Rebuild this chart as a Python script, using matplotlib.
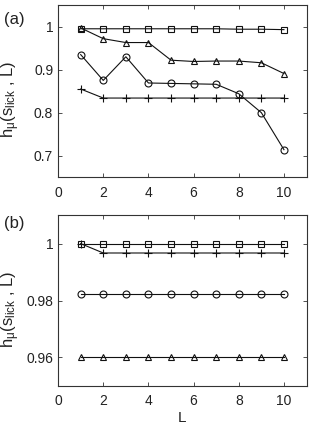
import matplotlib
matplotlib.use("Agg")
import matplotlib.pyplot as plt

plt.rcParams['font.family'] = ['Liberation Sans', 'DejaVu Sans']
plt.rcParams['mathtext.fontset'] = 'custom'
plt.rcParams['mathtext.rm'] = 'Liberation Sans'
plt.rcParams['mathtext.it'] = 'Liberation Sans'

L = [1, 2, 3, 4, 5, 6, 7, 8, 9, 10]

# panel (a)
a_square = [0.995, 0.995, 0.995, 0.995, 0.995, 0.995, 0.995, 0.994, 0.994, 0.993]
a_triangle = [0.997, 0.972, 0.963, 0.963, 0.922, 0.919, 0.920, 0.920, 0.916, 0.891]
a_circle = [0.935, 0.875, 0.930, 0.869, 0.868, 0.867, 0.866, 0.844, 0.800, 0.714]
a_plus = [0.855, 0.834, 0.834, 0.834, 0.834, 0.834, 0.834, 0.834, 0.834, 0.834]

# panel (b)
b_square = [1.0, 1.0, 1.0, 1.0, 1.0, 1.0, 1.0, 1.0, 1.0, 1.0]
b_plus = [1.0, 0.9967, 0.9967, 0.9967, 0.9967, 0.9967, 0.9967, 0.9967, 0.9967, 0.9967]
b_circle = [0.9822, 0.9822, 0.9822, 0.9822, 0.9822, 0.9822, 0.9822, 0.9822, 0.9822, 0.9822]
b_triangle = [0.96, 0.96, 0.96, 0.96, 0.96, 0.96, 0.96, 0.96, 0.96, 0.96]

txt = '#222222'
ylab = r'h$_{\mu}$(s$_{\mathregular{lick}}$ , L)'

fig = plt.figure(figsize=(3.09, 4.26), dpi=100)
ax1 = fig.add_axes([0.188, 0.584, 0.804, 0.404])
ax2 = fig.add_axes([0.188, 0.094, 0.804, 0.401])

def draw(ax, series):
    for y, m in series:
        ax.plot(L, y, color='#111111', lw=0.8, marker=m, ms=5 if m != '+' else 6,
                mfc='none', mec='#111111', mew=0.8)
    ax.set_xlim(0, 11)
    ax.set_xticks([0, 2, 4, 6, 8, 10])
    ax.tick_params(direction='in', top=True, right=True, length=3, width=0.6,
                   labelsize=10, labelcolor=txt, color='#333333')
    ax.tick_params(axis='x', pad=6)
    for s in ax.spines.values():
        s.set_linewidth(0.8)
        s.set_color('#333333')
    ax.set_ylabel(ylab, fontsize=12, color=txt)
    ax.yaxis.set_label_coords(-0.145, 0.45)

draw(ax1, [(a_square, 's'), (a_triangle, '^'), (a_circle, 'o'), (a_plus, '+')])
ax1.set_ylim(0.65, 1.05)
ax1.set_yticks([0.7, 0.8, 0.9, 1.0])
ax1.set_yticklabels(['0.7', '0.8', '0.9', '1'])

draw(ax2, [(b_square, 's'), (b_plus, '+'), (b_circle, 'o'), (b_triangle, '^')])
ax2.set_ylim(0.95, 1.01)
ax2.set_yticks([0.96, 0.98, 1.0])
ax2.set_yticklabels(['0.96', '0.98', '1'])
ax2.set_xlabel('L', fontsize=11, color=txt, labelpad=2)

fig.text(0.012, 0.972, '(a)', fontsize=12, color=txt, va='top')
fig.text(0.012, 0.493, '(b)', fontsize=12, color=txt, va='top')

fig.savefig('out.png', dpi=100)
